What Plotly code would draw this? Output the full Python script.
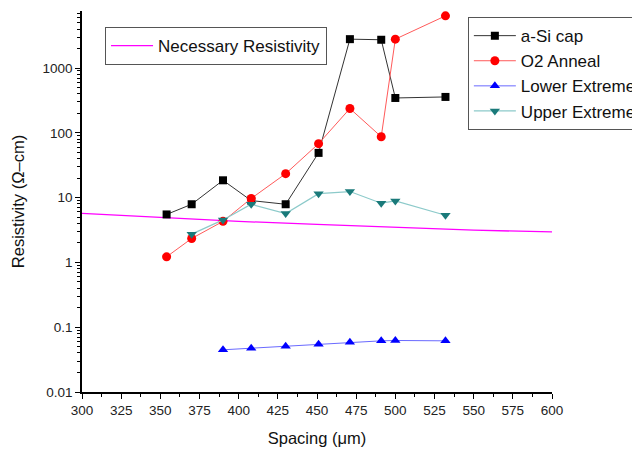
import plotly.graph_objects as go

spacing = [354, 370, 390, 408, 430, 451, 471, 491, 500, 532]
asi_cap = [5.5, 7.9, 18.5, 9.0, 7.9, 49, 2790, 2730, 345, 358]
o2_anneal = [1.22, 2.34, 4.3, 9.7, 23.4, 68, 237, 87, 2790, 6380]

spacing_low = [390, 408, 430, 451, 471, 491, 500, 532]
lower_ext = [0.0448, 0.0475, 0.051, 0.0547, 0.0588, 0.0616, 0.0624, 0.0616]

spacing_up = [370, 390, 408, 430, 451, 471, 491, 500, 532]
upper_ext = [2.73, 4.53, 7.9, 5.67, 11.5, 12.4, 8.2, 8.9, 5.35]

spacing_nec = [300, 350, 400, 450, 500, 550, 600]
necessary = [5.7, 4.9, 4.3, 3.85, 3.45, 3.15, 2.95]

xticks = [300, 325, 350, 375, 400, 425, 450, 475, 500, 525, 550, 575, 600]
yticks = [0.01, 0.1, 1, 10, 100, 1000]
yticklabels = ["0.01", "0.1", "1", "10", "100", "1000"]

FONT = "Liberation Sans, Arial, sans-serif"

fig = go.Figure()
fig.add_trace(go.Scatter(
    x=spacing_nec, y=necessary, mode="lines", name="Necessary Resistivity",
    line=dict(color="#ff00ff", width=1.3), legend="legend2"))
fig.add_trace(go.Scatter(
    x=spacing, y=asi_cap, mode="lines+markers", name="a-Si cap",
    line=dict(color="#333333", width=1),
    marker=dict(symbol="square", size=8, color="#000000")))
fig.add_trace(go.Scatter(
    x=spacing, y=o2_anneal, mode="lines+markers", name="O2 Anneal",
    line=dict(color="#ff5a5a", width=1),
    marker=dict(symbol="circle", size=9, color="#ff0000")))
fig.add_trace(go.Scatter(
    x=spacing_low, y=lower_ext, mode="lines+markers", name="Lower Extreme",
    line=dict(color="#6a6aff", width=1),
    marker=dict(symbol="triangle-up", size=9, color="#0000ff")))
fig.add_trace(go.Scatter(
    x=spacing_up, y=upper_ext, mode="lines+markers", name="Upper Extreme",
    line=dict(color="#8ccaca", width=1.2),
    marker=dict(symbol="triangle-down", size=9, color="#1a7a7a")))

fig.update_layout(
    width=632, height=451,
    margin=dict(l=82, r=80, t=11, b=59, autoexpand=False),
    paper_bgcolor="white", plot_bgcolor="white",
    font=dict(family=FONT, color="#222222", size=13.5),
    legend=dict(
        x=0.821, y=0.984, xanchor="left", yanchor="top",
        bgcolor="white", bordercolor="#555555", borderwidth=1,
        itemwidth=42,
        font=dict(size=17, color="#111111"), tracegroupgap=0),
    legend2=dict(
        x=0.049, y=0.958, xanchor="left", yanchor="top",
        bgcolor="white", bordercolor="#555555", borderwidth=1,
        itemwidth=42,
        font=dict(size=17, color="#111111")),
    xaxis=dict(
        range=[300, 600], tickvals=xticks, showgrid=False, zeroline=False,
        showline=True, linecolor="#000000", linewidth=1.5,
        ticks="outside", ticklen=5, tickwidth=1.2, tickcolor="#000000",
        tickfont=dict(size=13.5, color="#222222"),
        minor=dict(ticks="outside", ticklen=3, tickcolor="#000000", dtick=12.5, tick0=300),
        title=dict(text="Spacing (μm)", font=dict(size=16.5, color="#111111"), standoff=15)),
    yaxis=dict(
        type="log", range=[-2, 3.88], tickvals=yticks, ticktext=yticklabels,
        showgrid=False, zeroline=False,
        showline=True, linecolor="#000000", linewidth=1.5,
        ticks="outside", ticklen=5, tickwidth=1.2, tickcolor="#000000",
        tickfont=dict(size=13.5, color="#222222"),
        minor=dict(ticks="outside", ticklen=3, tickcolor="#000000", dtick="D1"),
        title=dict(text="Resistivity (Ω–cm)", font=dict(size=16.5, color="#111111"), standoff=14)),
)

fig.write_html("out.html")
